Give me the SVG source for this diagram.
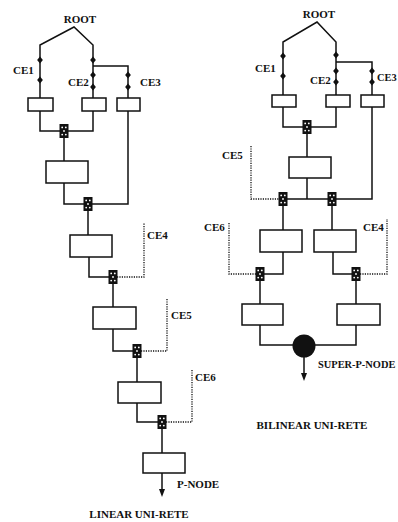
<svg xmlns="http://www.w3.org/2000/svg" xmlns:xlink="http://www.w3.org/1999/xlink" width="398" height="522" viewBox="0 0 398 522">
<style>
.ln{fill:none;stroke:#111;stroke-width:1.5;stroke-linejoin:miter}
.dt{fill:none;stroke:#111;stroke-width:1.3;stroke-dasharray:1.2 1.2}
.bx{fill:#fff;stroke:#111;stroke-width:1.5}
.tx{font-family:"Liberation Serif","Times New Roman",serif;font-size:11px;font-weight:bold;fill:#111}
.tc{text-anchor:middle}
.sm{font-size:10.4px}
</style>
<defs>
<g id="gate"><rect x="-4.5" y="-7" width="9" height="14" fill="#111"/><g fill="#fff"><circle cx="-1.8" cy="-3.6" r="0.9"/><circle cx="1.8" cy="-3.6" r="0.9"/><circle cx="0" cy="0" r="0.9"/><circle cx="-1.8" cy="3.6" r="0.9"/><circle cx="1.8" cy="3.6" r="0.9"/></g></g>
<path id="dia" d="M0,-3.5 L2.9,0 L0,3.5 L-2.9,0Z" fill="#111"/>
</defs>

<g id="connectors">
<!-- left diagram -->
<polyline class="ln" points="40,98 40,45 74,27 93,45 93,98"/>
<polyline class="ln" points="93,66 128,66 128,98"/>
<polyline class="ln" points="40,111 40,131 93,131 93,111"/>
<line class="ln" x1="64" y1="131" x2="64" y2="161"/>
<polyline class="ln" points="64,183 64,204 128,204 128,111"/>
<line class="ln" x1="88" y1="204" x2="88" y2="235"/>
<polyline class="ln" points="89,257 89,277 113,277"/>
<polyline class="dt" points="117,277 144,277 144,223"/>
<line class="ln" x1="113" y1="277" x2="113" y2="307"/>
<polyline class="ln" points="113,329 113,351 137,351"/>
<polyline class="dt" points="141,351 167,351 167,298"/>
<line class="ln" x1="137" y1="351" x2="137" y2="382"/>
<polyline class="ln" points="137,403 137,422 162,422"/>
<polyline class="dt" points="166,422 192,422 192,370"/>
<line class="ln" x1="162" y1="422" x2="162" y2="453"/>
<line class="ln" x1="162" y1="473" x2="162" y2="490"/>
<path d="M159,489 L165,489 L162,497Z" fill="#111"/>
<!-- right diagram -->
<polyline class="ln" points="283,95 283,42 317,22 336,42 336,95"/>
<polyline class="ln" points="336,62 372,62 372,95"/>
<polyline class="ln" points="283,107 283,127 336,127 336,107"/>
<line class="ln" x1="307" y1="127" x2="307" y2="157"/>
<line class="ln" x1="307" y1="178" x2="307" y2="199"/>
<polyline class="ln" points="283,199 372,199 372,107"/>
<polyline class="dt" points="251,146 251,199 279,199"/>
<line class="ln" x1="283" y1="199" x2="283" y2="230"/>
<line class="ln" x1="332" y1="199" x2="332" y2="230"/>
<polyline class="ln" points="283,252 283,274 260,274"/>
<polyline class="dt" points="256,274 229,274 229,222"/>
<polyline class="ln" points="333,252 333,274 356,274"/>
<polyline class="dt" points="360,274 387,274 387,219"/>
<line class="ln" x1="260" y1="274" x2="260" y2="304"/>
<line class="ln" x1="356" y1="274" x2="356" y2="304"/>
<polyline class="ln" points="260,325 260,345 356,345 356,325"/>
<line class="ln" x1="304" y1="357" x2="304" y2="374"/>
<path d="M301,373 L307,373 L304,381Z" fill="#111"/>
</g>

<!-- left diagram nodes -->
<g id="L-root"><text class="tx tc" x="80" y="23">ROOT</text></g>
<g id="L-ce1"><use href="#dia" x="40" y="60"/><use href="#dia" x="40" y="80"/><text class="tx" x="13" y="74">CE1</text></g>
<g id="L-ce2"><use href="#dia" x="93" y="60"/><use href="#dia" x="93" y="75"/><use href="#dia" x="93" y="87"/><text class="tx" x="68" y="86">CE2</text></g>
<g id="L-ce3"><use href="#dia" x="128" y="75"/><use href="#dia" x="128" y="87"/><text class="tx" x="140" y="86">CE3</text></g>
<g id="L-b1"><rect class="bx" x="28" y="98" width="25" height="13"/></g>
<g id="L-b2"><rect class="bx" x="82" y="98" width="24" height="13"/></g>
<g id="L-b3"><rect class="bx" x="117" y="98" width="23" height="13"/></g>
<g id="L-g1"><use href="#gate" x="64" y="131"/></g>
<g id="L-b4"><rect class="bx" x="46" y="161" width="42" height="22"/></g>
<g id="L-g2"><use href="#gate" x="88" y="204"/></g>
<g id="L-b5"><rect class="bx" x="70" y="235" width="42" height="22"/></g>
<g id="L-g3"><use href="#gate" x="113" y="277"/><text class="tx" x="147" y="239">CE4</text></g>
<g id="L-b6"><rect class="bx" x="93" y="307" width="43" height="22"/></g>
<g id="L-g4"><use href="#gate" x="137" y="351"/><text class="tx" x="171" y="319">CE5</text></g>
<g id="L-b7"><rect class="bx" x="118" y="382" width="43" height="21"/></g>
<g id="L-g5"><use href="#gate" x="162" y="422"/><text class="tx" x="195" y="381">CE6</text></g>
<g id="L-b8"><rect class="bx" x="143" y="453" width="42" height="20"/><text class="tx" x="177" y="488">P-NODE</text></g>
<g id="L-title"><text class="tx tc" x="139" y="518">LINEAR UNI-RETE</text></g>

<!-- right diagram nodes -->
<g id="R-root"><text class="tx tc" x="319" y="18">ROOT</text></g>
<g id="R-ce1"><use href="#dia" x="283" y="56"/><use href="#dia" x="283" y="76"/><text class="tx" x="255" y="72">CE1</text></g>
<g id="R-ce2"><use href="#dia" x="336" y="55"/><use href="#dia" x="336" y="71"/><use href="#dia" x="336" y="82"/><text class="tx" x="310" y="84">CE2</text></g>
<g id="R-ce3"><use href="#dia" x="372" y="71"/><use href="#dia" x="372" y="82"/><text class="tx sm" x="377" y="81">CE3</text></g>
<g id="R-b1"><rect class="bx" x="272" y="95" width="24" height="12"/></g>
<g id="R-b2"><rect class="bx" x="326" y="95" width="24" height="12"/></g>
<g id="R-b3"><rect class="bx" x="361" y="95" width="23" height="12"/></g>
<g id="R-g1"><use href="#gate" x="307" y="127"/></g>
<g id="R-b4"><rect class="bx" x="289" y="157" width="42" height="21"/></g>
<g id="R-gL"><use href="#gate" x="283" y="199"/><text class="tx" x="222" y="159">CE5</text></g>
<g id="R-gR"><use href="#gate" x="332" y="199"/></g>
<g id="R-bL"><rect class="bx" x="260" y="230" width="42" height="22"/></g>
<g id="R-bR"><rect class="bx" x="314" y="230" width="42" height="22"/></g>
<g id="R-gLL"><use href="#gate" x="260" y="274"/><text class="tx" x="204" y="231">CE6</text></g>
<g id="R-gRR"><use href="#gate" x="356" y="274"/><text class="tx" x="363" y="231">CE4</text></g>
<g id="R-bLL"><rect class="bx" x="242" y="304" width="41" height="21"/></g>
<g id="R-bRR"><rect class="bx" x="337" y="304" width="43" height="21"/></g>
<g id="R-super"><circle cx="304" cy="346" r="11.5" fill="#111"/><text class="tx sm" x="318" y="368">SUPER-P-NODE</text></g>
<g id="R-title"><text class="tx tc" x="312" y="429">BILINEAR UNI-RETE</text></g>
</svg>
